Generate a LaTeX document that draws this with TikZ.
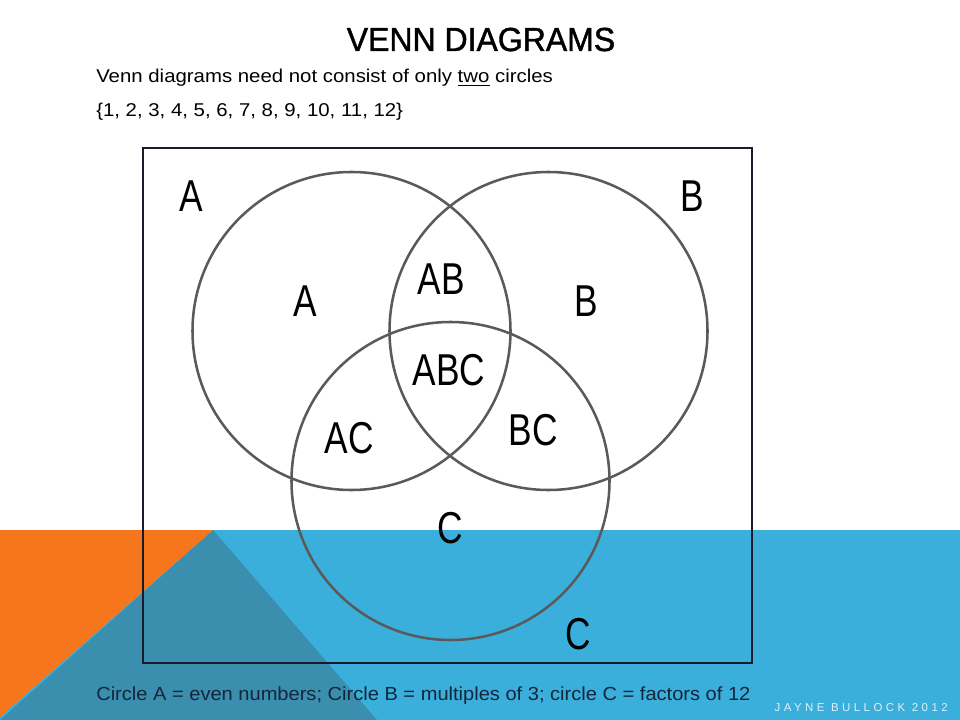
\documentclass[tikz,border=0pt]{standalone}
\usepackage{fontspec}
\setmainfont{Liberation Sans}
\newfontfamily\narrowfont[FakeStretch=0.79]{Liberation Sans}
\newfontfamily\titlefont[FakeStretch=0.96,FakeBold=1.3]{Liberation Sans}
\newfontfamily\bodyfont[FakeStretch=1.1]{Liberation Sans}
\newfontfamily\footfont[FakeStretch=1.06]{Liberation Sans}
\definecolor{bandblue}{HTML}{3AAFDC}
\definecolor{darkteal}{HTML}{3A8FAE}
\definecolor{accentorange}{HTML}{F6761E}
\definecolor{ringgray}{HTML}{5A5A5A}
\definecolor{framenavy}{HTML}{1A1A2A}
\definecolor{footnavy}{HTML}{15253A}
\definecolor{creditlight}{HTML}{DDF0F8}
\tikzset{
  ring/.style={circle, draw=ringgray, line width=1.9pt, minimum size=238.5pt, inner sep=0pt, outer sep=0pt},
  region/.style={inner sep=0pt, font=\narrowfont\fontsize{33.5}{36}\selectfont, text=black},
  bodytext/.style={inner sep=0pt, anchor=base west, font=\bodyfont\fontsize{13.9}{16}\selectfont, text=black},
}
\begin{document}
\begin{tikzpicture}[x=0.75pt,y=-0.75pt]
\useasboundingbox (0,0) rectangle (960,720);
\fill[white] (0,0) rectangle (960,720);
% background band
\fill[bandblue] (0,530) rectangle (960,720);
\fill[darkteal] (213,530) -- (377,720) -- (0,720) -- cycle;
\fill[accentorange] (0,530) -- (213,530) -- (0,717) -- cycle;
% frame
\node[draw=framenavy, line width=0.9pt, minimum width=456.75pt, minimum height=386.25pt, inner sep=0pt] (frame) at (447.5,405.5) {};
% circles
\node[ring] (cA) at (351.5,331) {};
\node[ring] (cB) at (548.5,331) {};
\node[ring] (cC) at (450.5,481) {};
% title and text
\node[inner sep=0pt, anchor=base, font=\titlefont\fontsize{25}{28}\selectfont, text=black] (title) at (481,51) {VENN DIAGRAMS};
\node[bodytext] (line1) at (96,83) {Venn diagrams need not consist of only \underline{two} circles};
\node[bodytext] (line2) at (96,117) {\{1, 2, 3, 4, 5, 6, 7, 8, 9, 10, 11, 12\}};
% region labels
\node[region] (oA) at (191,196) {A};
\node[region] (oB) at (692,196) {B};
\node[region] (iA) at (305,301) {A};
\node[region] (iB) at (586,301) {B};
\node[region] (AB) at (441,279) {AB};
\node[region] (ABC) at (449,370) {ABC};
\node[region] (AC) at (349,438) {AC};
\node[region] (BC) at (533,430) {BC};
\node[region] (iC) at (450,528) {C};
\node[region] (oC) at (578,634) {C};
% footer
\node[inner sep=0pt, anchor=base west, font=\footfont\fontsize{14.2}{16}\selectfont, text=footnavy] (foot) at (96,700) {Circle A = even numbers; Circle B = multiples of 3; circle C = factors of 12};
\node[inner sep=0pt, anchor=base east, font=\addfontfeature{LetterSpace=30}\fontsize{8.6}{10}\selectfont, text=creditlight] (credit) at (948,711) {JAYNE BULLOCK 2012};
\end{tikzpicture}
\end{document}
